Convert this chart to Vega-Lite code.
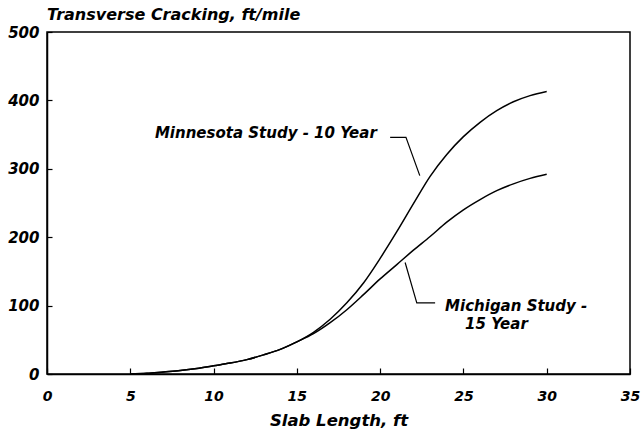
{
  "$schema": "https://vega.github.io/schema/vega-lite/v6.json",
  "autosize": {"type": "none"},
  "width": 583,
  "height": 342,
  "padding": {"left": 47, "top": 32, "right": 11, "bottom": 60},
  "background": "white",
  "config": {
    "view": {"stroke": "black", "strokeWidth": 1.5},
    "font": "DejaVu Sans"
  },
  "title": {
    "text": "Transverse Cracking, ft/mile",
    "anchor": "start",
    "frame": "group",
    "font": "DejaVu Sans",
    "fontSize": 16,
    "fontStyle": "italic",
    "fontWeight": "bold",
    "color": "black",
    "offset": 2,
    "dx": 0
  },
  "datasets": {
    "curves": [
      {"series": "Minnesota", "x": 5, "y": 0},
      {"series": "Minnesota", "x": 6, "y": 1},
      {"series": "Minnesota", "x": 7, "y": 3},
      {"series": "Minnesota", "x": 8, "y": 5},
      {"series": "Minnesota", "x": 9, "y": 8},
      {"series": "Minnesota", "x": 10, "y": 12},
      {"series": "Minnesota", "x": 11, "y": 16},
      {"series": "Minnesota", "x": 12, "y": 21},
      {"series": "Minnesota", "x": 13, "y": 28},
      {"series": "Minnesota", "x": 14, "y": 36},
      {"series": "Minnesota", "x": 15, "y": 47},
      {"series": "Minnesota", "x": 16, "y": 61},
      {"series": "Minnesota", "x": 17, "y": 80},
      {"series": "Minnesota", "x": 18, "y": 104},
      {"series": "Minnesota", "x": 19, "y": 133},
      {"series": "Minnesota", "x": 20, "y": 169},
      {"series": "Minnesota", "x": 21, "y": 208},
      {"series": "Minnesota", "x": 22, "y": 249},
      {"series": "Minnesota", "x": 23, "y": 289},
      {"series": "Minnesota", "x": 24, "y": 321},
      {"series": "Minnesota", "x": 25, "y": 347},
      {"series": "Minnesota", "x": 26, "y": 368},
      {"series": "Minnesota", "x": 27, "y": 385},
      {"series": "Minnesota", "x": 28, "y": 398},
      {"series": "Minnesota", "x": 29, "y": 407},
      {"series": "Minnesota", "x": 30, "y": 413},
      {"series": "Michigan", "x": 5, "y": 0},
      {"series": "Michigan", "x": 6, "y": 1},
      {"series": "Michigan", "x": 7, "y": 3},
      {"series": "Michigan", "x": 8, "y": 5},
      {"series": "Michigan", "x": 9, "y": 8},
      {"series": "Michigan", "x": 10, "y": 12},
      {"series": "Michigan", "x": 11, "y": 16},
      {"series": "Michigan", "x": 12, "y": 21},
      {"series": "Michigan", "x": 13, "y": 28},
      {"series": "Michigan", "x": 14, "y": 36},
      {"series": "Michigan", "x": 15, "y": 47},
      {"series": "Michigan", "x": 16, "y": 59},
      {"series": "Michigan", "x": 17, "y": 75},
      {"series": "Michigan", "x": 18, "y": 94},
      {"series": "Michigan", "x": 19, "y": 116},
      {"series": "Michigan", "x": 20, "y": 139},
      {"series": "Michigan", "x": 21, "y": 160},
      {"series": "Michigan", "x": 22, "y": 181},
      {"series": "Michigan", "x": 23, "y": 201},
      {"series": "Michigan", "x": 24, "y": 222},
      {"series": "Michigan", "x": 25, "y": 240},
      {"series": "Michigan", "x": 26, "y": 255},
      {"series": "Michigan", "x": 27, "y": 268},
      {"series": "Michigan", "x": 28, "y": 278},
      {"series": "Michigan", "x": 29, "y": 286},
      {"series": "Michigan", "x": 30, "y": 292}
    ],
    "leaders": [
      {"g": "mn", "o": 1, "x": 20.6, "y": 346},
      {"g": "mn", "o": 2, "x": 21.55, "y": 346},
      {"g": "mn", "o": 3, "x": 22.38, "y": 290},
      {"g": "mi", "o": 1, "x": 21.5, "y": 163},
      {"g": "mi", "o": 2, "x": 22.2, "y": 104},
      {"g": "mi", "o": 3, "x": 23.3, "y": 104}
    ],
    "labelsRight": [
      {"text": "Minnesota Study - 10 Year", "x": 19.8, "y": 352}
    ],
    "labelsLeft": [
      {"text": "Michigan Study -", "x": 23.9, "y": 100},
      {"text": "15 Year", "x": 25.1, "y": 73}
    ]
  },
  "layer": [
    {
      "data": {"name": "curves"},
      "mark": {"type": "line", "color": "black", "strokeWidth": 1.5, "interpolate": "monotone"},
      "encoding": {
        "x": {
          "field": "x", "type": "quantitative",
          "scale": {"domain": [0, 35], "nice": false, "zero": false},
          "axis": {
            "values": [0, 5, 10, 15, 20, 25, 30, 35],
            "title": "Slab Length, ft",
            "grid": false,
            "domainColor": "black", "domainWidth": 1.5,
            "tickColor": "black", "tickSize": -6, "tickWidth": 1.2,
            "labelPadding": 21,
            "labelFont": "DejaVu Sans", "labelFontSize": 14, "labelFontStyle": "italic", "labelFontWeight": "bold",
            "labelColor": "black",
            "labelFlush": false,
            "titleFont": "DejaVu Sans", "titleFontSize": 16.5, "titleFontStyle": "italic", "titleFontWeight": "bold",
            "titleColor": "black", "titlePadding": 9
          }
        },
        "y": {
          "field": "y", "type": "quantitative",
          "scale": {"domain": [0, 500], "nice": false},
          "axis": {
            "values": [0, 100, 200, 300, 400, 500],
            "title": null,
            "grid": false,
            "domainColor": "black", "domainWidth": 1.5,
            "tickColor": "black", "tickSize": -5, "tickWidth": 1.2,
            "labelPadding": 13,
            "labelFont": "DejaVu Sans", "labelFontSize": 15, "labelFontStyle": "italic", "labelFontWeight": "bold",
            "labelColor": "black",
            "labelFlush": false
          }
        },
        "detail": {"field": "series"}
      }
    },
    {
      "data": {"name": "leaders"},
      "mark": {"type": "line", "color": "black", "strokeWidth": 1.2},
      "encoding": {
        "x": {"field": "x", "type": "quantitative"},
        "y": {"field": "y", "type": "quantitative"},
        "detail": {"field": "g"},
        "order": {"field": "o"}
      }
    },
    {
      "data": {"name": "labelsRight"},
      "mark": {"type": "text", "font": "DejaVu Sans", "fontSize": 15, "fontStyle": "italic", "fontWeight": "bold", "color": "black", "baseline": "middle", "align": "right"},
      "encoding": {
        "x": {"field": "x", "type": "quantitative"},
        "y": {"field": "y", "type": "quantitative"},
        "text": {"field": "text"}
      }
    },
    {
      "data": {"name": "labelsLeft"},
      "mark": {"type": "text", "font": "DejaVu Sans", "fontSize": 15, "fontStyle": "italic", "fontWeight": "bold", "color": "black", "baseline": "middle", "align": "left"},
      "encoding": {
        "x": {"field": "x", "type": "quantitative"},
        "y": {"field": "y", "type": "quantitative"},
        "text": {"field": "text"}
      }
    }
  ]
}
